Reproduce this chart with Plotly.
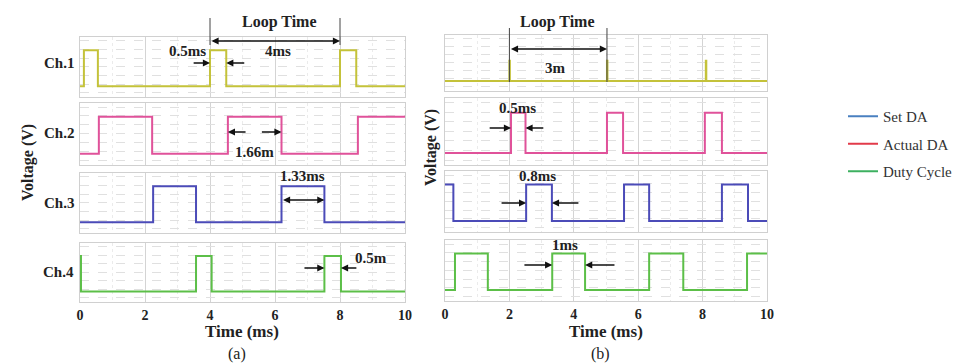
import plotly.graph_objects as go

W, H = 958, 363

# ---------------- data (time in ms, logic level) ----------------
# panel (a)
a_ch1_t = [0, 0.12, 0.55, 4.0, 4.5, 8.0, 8.5, 10]
a_ch1_v = [0, 1, 0, 1, 0, 1, 0, 0]
a_ch2_t = [0, 0.58, 2.22, 4.55, 6.2, 8.55, 10]
a_ch2_v = [0, 1, 0, 1, 0, 1, 1]
a_ch3_t = [0, 2.25, 3.57, 6.2, 7.52, 10]
a_ch3_v = [0, 1, 0, 1, 0, 0]
a_ch4_t = [0, 0.03, 3.57, 4.05, 7.52, 8.03, 10]
a_ch4_v = [1, 0, 1, 0, 1, 0, 0]
# panel (b)
b_ch1_t = [0, 2.0, 2.015, 5.03, 5.045, 8.1, 8.115, 10]
b_ch1_v = [0, 0.6, 0, 0.6, 0, 0.6, 0, 0]
b_ch2_t = [0, 2.05, 2.5, 5.03, 5.53, 8.07, 8.6, 10]
b_ch2_v = [0, 1, 0, 1, 0, 1, 0, 0]
b_ch3_t = [0, 0.26, 2.52, 3.32, 5.56, 6.34, 8.6, 9.41, 10]
b_ch3_v = [1, 0, 1, 0, 1, 0, 1, 0, 0]
b_ch4_t = [0, 0.31, 1.33, 3.33, 4.35, 6.34, 7.4, 9.38, 10]
b_ch4_v = [0, 1, 0, 1, 0, 1, 0, 1, 1]

channel_names = ["Ch.1", "Ch.2", "Ch.3", "Ch.4"]
channel_colors = ["#c4c23a", "#e0529a", "#4b4bb8", "#5cbf48"]
x_ticks = [0, 2, 4, 6, 8, 10]
legend_names = ["Set DA", "Actual DA", "Duty Cycle"]
legend_colors = ["#4a80c0", "#e23a4a", "#3db060"]

series = [
    (a_ch1_t, a_ch1_v), (a_ch2_t, a_ch2_v), (a_ch3_t, a_ch3_v), (a_ch4_t, a_ch4_v),
    (b_ch1_t, b_ch1_v), (b_ch2_t, b_ch2_v), (b_ch3_t, b_ch3_v), (b_ch4_t, b_ch4_v),
]

# ---------------- layout geometry (pixels) ----------------
col_x = [(80, 405), (445, 767)]
rows_px = [
    [(37, 97), (103, 165), (173, 233), (243, 302)],
    [(35, 91), (98, 165), (171, 232), (240, 301)],
]

def px_x(p):
    return p / W

def py(p):
    return 1 - p / H

SERIF = "Liberation Serif, Times New Roman, serif"

fig = go.Figure()
layout = dict(
    width=W, height=H, margin=dict(l=0, r=0, t=0, b=0, autoexpand=False),
    paper_bgcolor="white", plot_bgcolor="white",
    font=dict(family=SERIF, color="#222"),
)

for idx, (t, v) in enumerate(series):
    col = idx // 4
    row = idx % 4
    n = idx + 1
    xa = "xaxis" if n == 1 else f"xaxis{n}"
    ya = "yaxis" if n == 1 else f"yaxis{n}"
    top, bot = rows_px[col][row]
    x0, x1 = col_x[col]
    layout[xa] = dict(
        domain=[px_x(x0), px_x(x1)], anchor=f"y{n}" if n > 1 else "y",
        range=[0, 10], tickvals=x_ticks, showticklabels=(row == 3),
        ticks="", showgrid=True, gridcolor="#d4d4d4", gridwidth=1,
        minor=dict(dtick=1, showgrid=True, gridcolor="#ebebeb", griddash="dot"),
        showline=True, mirror=True, linecolor="#d0d0d0", linewidth=1,
        zeroline=False, tickfont=dict(size=14, family=SERIF, weight="bold", color="#222"),
        fixedrange=True, automargin=False,
    )
    layout[ya] = dict(
        domain=[py(bot), py(top)], anchor=f"x{n}" if n > 1 else "x",
        range=[-0.3, 1.37], dtick=0.24, tick0=-0.18, showticklabels=False, ticks="",
        showgrid=True, gridcolor="#e0e0e0", griddash="dash", gridwidth=1,
        showline=True, mirror=True, linecolor="#d0d0d0", linewidth=1,
        zeroline=False, fixedrange=True, automargin=False,
    )
    fig.add_trace(go.Scatter(
        x=t, y=v, mode="lines", line=dict(color=channel_colors[row], width=2, shape="hv"),
        xaxis=f"x{n}" if n > 1 else "x", yaxis=f"y{n}" if n > 1 else "y",
        showlegend=False, hoverinfo="skip",
    ))

# legend entries
for i, (name, c) in enumerate(zip(legend_names, legend_colors)):
    fig.add_trace(go.Scatter(
        x=[None], y=[None], mode="lines", name=name, line=dict(color=c, width=2),
        legendgroup=f"g{i}",
    ))

layout["legend"] = dict(
    x=px_x(843), y=py(100), xanchor="left", yanchor="top",
    font=dict(family=SERIF, size=15, color="#333"),
    tracegroupgap=5, bgcolor="rgba(0,0,0,0)", itemwidth=30,
)
layout["showlegend"] = True

ann = []
shapes = []

def text(x, y_px, s, xref="x", size=15, bold=True):
    ann.append(dict(
        x=x, y=py(y_px), xref=xref, yref="paper", text=f"<b>{s}</b>" if bold else s,
        showarrow=False, font=dict(family=SERIF, size=size, color="#222"),
        xanchor="center", yanchor="middle",
    ))

def arrow(x_head, x_tail, y_px, xref="x", double=False):
    ann.append(dict(
        x=x_head, y=py(y_px), xref=xref, yref="paper",
        ax=x_tail, ay=0, axref=xref, ayref="pixel",
        showarrow=True, arrowhead=2, arrowsize=1.1, arrowwidth=1.3, arrowcolor="#111",
        arrowside="end+start" if double else "end", text="",
        startarrowhead=2, startarrowsize=1.1,
    ))

def vline(x, y0_px, y1_px, xref="x"):
    shapes.append(dict(type="line", xref=xref, yref="paper", x0=x, x1=x,
                       y0=py(y0_px), y1=py(y1_px), line=dict(color="#444", width=1)))

# ---- panel (a) annotations ----
text(6.15, 22, "Loop Time", "x", size=16)
vline(4.0, 18, 45, "x")
vline(8.0, 18, 45, "x")
arrow(8.0, 4.0, 41, "x", double=True)
text(6.1, 51, "4ms", "x")
text(3.3, 51, "0.5ms", "x")
arrow(4.0, 3.45, 63, "x")
arrow(4.5, 5.1, 63, "x")
arrow(4.55, 5.14, 132, "x2")
arrow(6.2, 5.55, 132, "x2")
text(5.38, 152, "1.66m", "x2")
text(6.86, 176, "1.33ms", "x3")
arrow(7.52, 6.2, 200, "x3", double=True)
text(8.95, 258, "0.5m", "x4")
arrow(7.52, 6.86, 268, "x4")
arrow(8.03, 8.55, 268, "x4")

# ---- panel (b) annotations ----
text(3.48, 22, "Loop Time", "x5", size=16)
vline(2.0, 28, 82, "x5")
vline(5.03, 28, 82, "x5")
arrow(5.03, 2.0, 49, "x5", double=True)
text(3.42, 68, "3m", "x5")
text(2.24, 108, "0.5ms", "x6")
arrow(2.05, 1.34, 128, "x6")
arrow(2.5, 3.1, 128, "x6")
text(2.86, 176, "0.8ms", "x7")
arrow(2.52, 1.71, 203, "x7")
arrow(3.32, 4.19, 203, "x7")
text(3.73, 245, "1ms", "x8")
arrow(3.33, 2.42, 265, "x8")
arrow(4.35, 5.31, 265, "x8")

# channel labels (panel a)
ch_label_y = [63, 133, 203, 272]
for name, yp in zip(channel_names, ch_label_y):
    ann.append(dict(x=px_x(76), y=py(yp), xref="paper", yref="paper", text=f"<b>{name}</b>",
                    showarrow=False, xanchor="right", yanchor="middle",
                    font=dict(family=SERIF, size=15, color="#222")))

# axis titles and captions
for cx in [242, 606]:
    ann.append(dict(x=px_x(cx), y=py(331), xref="paper", yref="paper", text="<b>Time (ms)</b>",
                    showarrow=False, xanchor="center", yanchor="middle",
                    font=dict(family=SERIF, size=17, color="#222")))
for cx, cap in [(237, "(a)"), (600, "(b)")]:
    ann.append(dict(x=px_x(cx), y=py(354), xref="paper", yref="paper", text=cap,
                    showarrow=False, xanchor="center", yanchor="middle",
                    font=dict(family=SERIF, size=16, color="#222")))
for cx, cy in [(28, 163), (431, 148)]:
    ann.append(dict(x=px_x(cx), y=py(cy), xref="paper", yref="paper", text="<b>Voltage (V)</b>",
                    showarrow=False, xanchor="center", yanchor="middle", textangle=-90,
                    font=dict(family=SERIF, size=16, color="#222")))

layout["annotations"] = ann
layout["shapes"] = shapes
fig.update_layout(**layout)
fig.write_html("out.html", config={"displayModeBar": False},
               post_script="document.body.style.margin='0';document.body.style.overflow='hidden';")
